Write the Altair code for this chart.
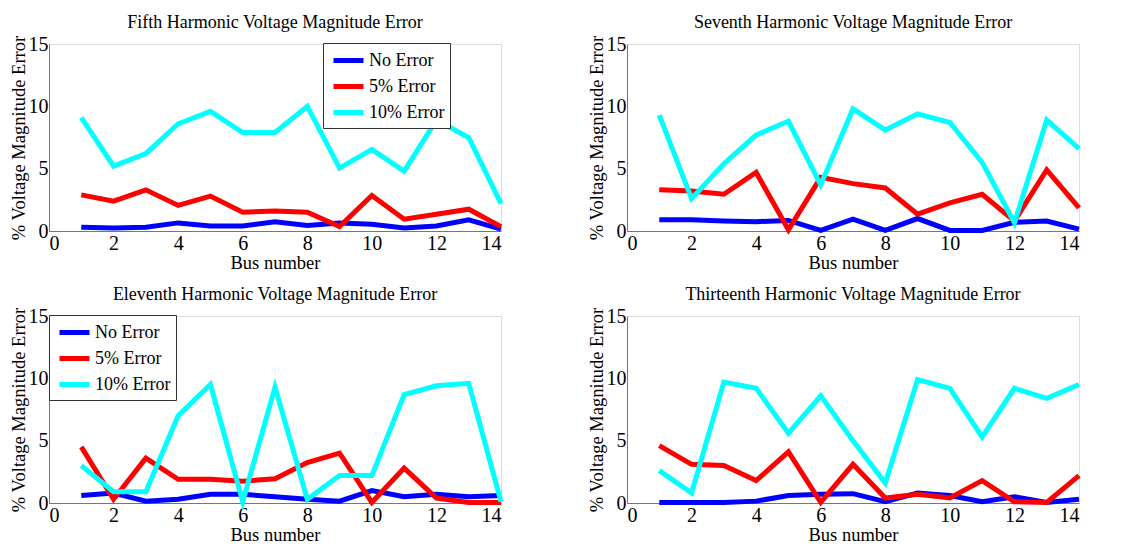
import altair as alt
import pandas as pd

bus = list(range(1, 15))
series_names = ["No Error", "5% Error", "10% Error"]
series_colors = ["#0000ff", "#ff0000", "#00ffff"]

titles = [
    "Fifth Harmonic Voltage Magnitude Error",
    "Seventh Harmonic Voltage Magnitude Error",
    "Eleventh Harmonic Voltage Magnitude Error",
    "Thirteenth Harmonic Voltage Magnitude Error",
]

fifth_no = [0.3, 0.25, 0.3, 0.65, 0.4, 0.4, 0.75, 0.45, 0.65, 0.55, 0.25, 0.4, 0.9, 0.15]
fifth_5 = [2.9, 2.4, 3.3, 2.05, 2.8, 1.5, 1.6, 1.5, 0.35, 2.85, 0.95, 1.35, 1.75, 0.35]
fifth_10 = [9.1, 5.2, 6.2, 8.6, 9.6, 7.9, 7.9, 10.0, 5.05, 6.55, 4.8, 8.9, 7.5, 2.2]

seventh_no = [0.9, 0.9, 0.8, 0.75, 0.85, 0.05, 0.95, 0.05, 1.0, 0.05, 0.05, 0.7, 0.8, 0.15]
seventh_5 = [3.3, 3.2, 2.95, 4.7, 0.1, 4.3, 3.8, 3.45, 1.35, 2.25, 2.95, 0.8, 4.9, 1.85]
seventh_10 = [9.3, 2.6, 5.4, 7.7, 8.8, 3.7, 9.8, 8.1, 9.4, 8.7, 5.5, 0.65, 8.9, 6.6]

eleventh_no = [0.6, 0.8, 0.15, 0.3, 0.7, 0.7, 0.5, 0.3, 0.15, 1.0, 0.5, 0.7, 0.5, 0.6]
eleventh_5 = [4.5, 0.3, 3.6, 1.9, 1.9, 1.75, 1.95, 3.25, 4.0, 0.05, 2.8, 0.4, 0.05, 0.05]
eleventh_10 = [3.0, 0.9, 0.9, 7.0, 9.5, 0.1, 9.3, 0.3, 2.2, 2.2, 8.7, 9.4, 9.6, 0.1]

thirteenth_no = [0.05, 0.05, 0.05, 0.15, 0.6, 0.7, 0.75, 0.1, 0.8, 0.6, 0.1, 0.5, 0.05, 0.3]
thirteenth_5 = [4.6, 3.1, 3.0, 1.8, 4.1, 0.05, 3.1, 0.4, 0.7, 0.4, 1.8, 0.1, 0.05, 2.2]
thirteenth_10 = [2.6, 0.8, 9.7, 9.2, 5.6, 8.6, 5.0, 1.6, 9.9, 9.2, 5.3, 9.2, 8.4, 9.5]

panels = [
    (fifth_no, fifth_5, fifth_10),
    (seventh_no, seventh_5, seventh_10),
    (eleventh_no, eleventh_5, eleventh_10),
    (thirteenth_no, thirteenth_5, thirteenth_10),
]
legend_x = [274, 41, 0, 147]

FONT = "Liberation Serif"
W, H = 452, 187


def make_panel(i):
    rows = []
    for name, vals in zip(series_names, panels[i]):
        for b, v in zip(bus, vals):
            rows.append({"bus": b, "value": v, "series": name})
    df = pd.DataFrame(rows)
    axis_common = dict(grid=False, ticks=False, labelFont=FONT, labelFontSize=20,
                       titleFont=FONT, titleFontSize=18.5, titleFontWeight="normal",
                       domainColor="#777", labelColor="black", titleColor="black")
    return (
        alt.Chart(df, title=alt.TitleParams(titles[i], font=FONT, fontSize=18,
                                            fontWeight="normal", offset=2, color="black"))
        .mark_line(strokeWidth=5)
        .encode(
            x=alt.X("bus:Q", title="Bus number",
                    scale=alt.Scale(domain=[0, 14], nice=False),
                    axis=alt.Axis(values=list(range(0, 15, 2)), labelPadding=2,
                                  titlePadding=0, **axis_common)),
            y=alt.Y("value:Q", title="% Voltage Magnitude Error",
                    scale=alt.Scale(domain=[0, 15], nice=False),
                    axis=alt.Axis(values=[0, 5, 10, 15], labelPadding=1,
                                  titlePadding=0, **axis_common)),
            color=alt.Color("series:N",
                            scale=alt.Scale(domain=series_names, range=series_colors),
                            sort=series_names,
                            legend=alt.Legend(title=None, orient="none",
                                              legendX=legend_x[i], legendY=-1,
                                              direction="vertical",
                                              symbolType="M-1.5,0H1.5",
                                              symbolStrokeWidth=5,
                                              symbolSize=400, symbolOffset=8,
                                              labelFont=FONT,
                                              labelFontSize=18, labelColor="black",
                                              labelOffset=8,
                                              rowPadding=3, padding=5,
                                              strokeColor="#333", fillColor="white")),
        )
        .properties(width=W, height=H)
    )


row1 = alt.hconcat(make_panel(0), make_panel(1), spacing=74)
row2 = alt.hconcat(make_panel(2), make_panel(3), spacing=74)
chart = (
    alt.vconcat(row1, row2, spacing=13)
    .resolve_scale(color="independent")
    .resolve_legend(color="independent")
    .properties(padding={"left": 0, "top": 5, "right": 5, "bottom": 5})
    .configure_view(stroke="#777", strokeWidth=1)
    .configure(background="white")
)

chart.save("out.html", embed_options={"renderer": "svg", "actions": False})
